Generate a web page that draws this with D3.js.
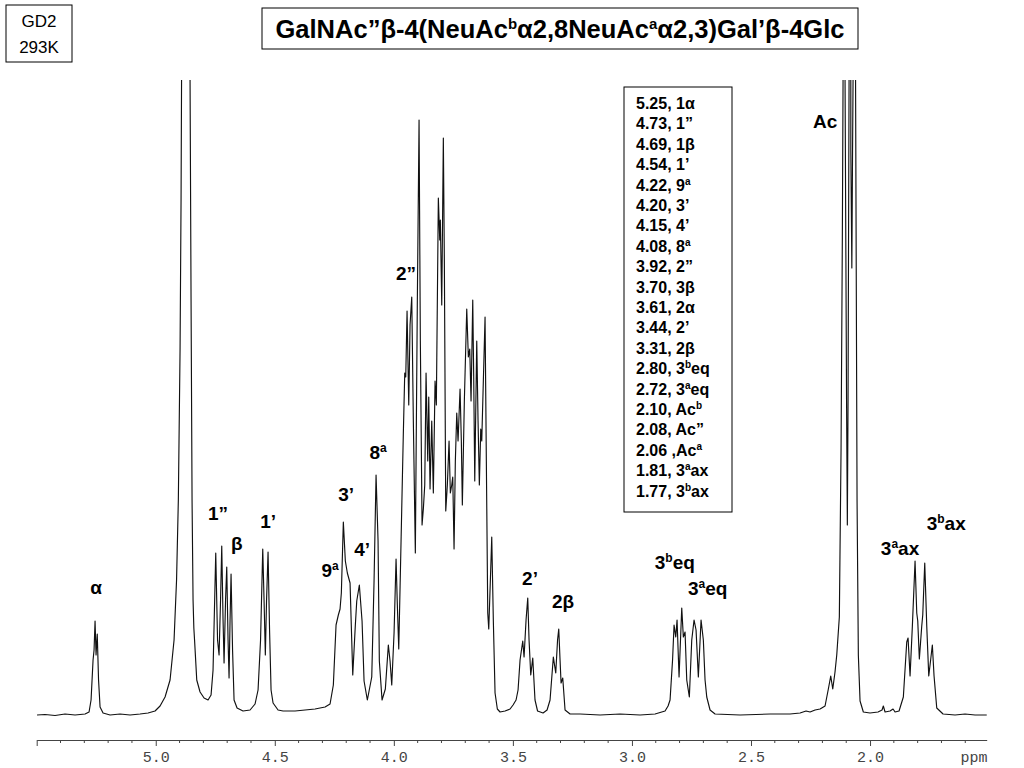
<!DOCTYPE html>
<html>
<head>
<meta charset="utf-8">
<script src="https://cdn.jsdelivr.net/npm/d3@7"></script>
<style>
  body { margin: 0; background: #fff; }
  svg { display: block; }
</style>
</head>
<body>
<svg id="nmr" width="1024" height="768"></svg>
<script>
// spectrum trace, [ppm, intensity above baseline]
const anomericRegion = [[5.4985,1],[5.4649,1.5],[5.4229,0.5],[5.3809,2],[5.3389,1],[5.2969,2],[5.2801,4],[5.2717,16],[5.2633,56],[5.2591,66],[5.2549,95],[5.2507,61],[5.2457,82],[5.2402,36],[5.2339,9],[5.2213,3],[5.1919,1],[5.1499,2],[5.1079,1],[5.0659,2],[5.0323,3],[5.0029,5],[4.9819,10],[4.9609,19],[4.9399,36],[4.9231,76],[4.9126,136],[4.9051,216],[4.8979,366],[4.8937,516],[4.8916,636],[4.8895,2000],[4.8580,2000],[4.8559,636],[4.8517,416],[4.8475,216],[4.8433,116],[4.8400,88],[4.8370,76],[4.8278,36],[4.8139,24],[4.7971,18],[4.7803,16],[4.7677,21],[4.7593,46],[4.7480,163],[4.7404,76],[4.7341,61],[4.7278,116],[4.7228,170],[4.7173,96],[4.7131,53],[4.7068,116],[4.7018,149],[4.6963,76],[4.6921,38],[4.6879,96],[4.6837,142],[4.6774,66],[4.6711,16],[4.6585,8],[4.6333,5],[4.6039,6],[4.5829,12],[4.5703,26],[4.5598,76],[4.5506,167],[4.5451,116],[4.5397,61],[4.5346,116],[4.5283,164],[4.5220,86],[4.5157,26],[4.5073,13],[4.4863,6],[4.4653,5]];
const ringRegion = [[4.4149,5],[4.3729,6],[4.3309,7],[4.2889,9],[4.2679,12],[4.2541,31],[4.2427,91],[4.2331,101],[4.2259,107],[4.2205,123],[4.2121,194],[4.2037,155],[4.1953,143],[4.1839,133],[4.1726,41],[4.1617,91],[4.1558,115],[4.1449,131],[4.1335,95],[4.1251,35],[4.1113,16],[4.0928,39],[4.0831,135],[4.0747,241],[4.0663,175],[4.0609,55],[4.0495,16],[4.0357,27],[4.0231,71],[4.0159,55],[4.0088,31],[3.9991,83],[3.9907,157],[3.9853,111],[3.9794,67],[3.9697,175],[3.9601,283],[3.9542,343],[3.9500,339],[3.9445,405],[3.9374,311],[3.9319,391],[3.9248,419],[3.9181,295],[3.9097,163],[3.9013,416],[3.8941,596],[3.8887,375],[3.8815,191],[3.8761,207],[3.8702,231],[3.8647,343],[3.8576,255],[3.8534,319],[3.8479,227],[3.8408,295],[3.8341,223],[3.8269,335],[3.8215,311],[3.8131,518],[3.8072,476],[3.8047,496],[3.7988,411],[3.7921,578],[3.7879,456],[3.7820,205],[3.7753,231],[3.7681,275],[3.7627,223],[3.7568,231],[3.7526,239],[3.7471,167],[3.7417,255],[3.7358,303],[3.7303,275],[3.7219,327],[3.7165,275],[3.7123,211],[3.7039,315],[3.6938,407],[3.6871,359],[3.6812,367],[3.6757,315],[3.6686,416],[3.6644,335],[3.6602,235],[3.6518,375],[3.6463,295],[3.6409,231],[3.6350,287],[3.6308,275],[3.6241,335],[3.6169,399],[3.6115,255],[3.6056,103],[3.6014,87],[3.5947,135],[3.5888,179],[3.5821,95],[3.5749,23],[3.5653,7],[3.5539,4]];
const sialicRegion = [[3.5329,5],[3.5119,7],[3.4993,11],[3.4867,16],[3.4783,26],[3.4699,56],[3.4586,75],[3.4531,59],[3.4447,96],[3.4376,118],[3.4321,76],[3.4250,41],[3.4166,58],[3.4071,16],[3.3964,5],[3.3733,3],[3.3565,6],[3.3439,16],[3.3301,59],[3.3200,43],[3.3124,76],[3.3074,87],[3.3019,56],[3.2977,33],[3.2906,38],[3.2809,6],[3.2599,2],[3.2179,2],[3.1339,1],[3.0499,2],[2.9659,1],[2.9029,2],[2.8609,5],[2.8483,10],[2.8399,16],[2.8294,56],[2.8231,91],[2.8160,79],[2.8105,96],[2.8021,39],[2.7908,108],[2.7841,79],[2.7769,84],[2.7698,36],[2.7589,19],[2.7488,76],[2.7391,96],[2.7307,86],[2.7211,39],[2.7097,96],[2.7001,76],[2.6929,36],[2.6858,19],[2.6719,6],[2.6509,2],[2.5459,1]];
const acetylRegion = [[2.4199,2],[2.3359,2],[2.2939,3],[2.2687,5],[2.2519,4],[2.2309,6],[2.2099,7],[2.1889,10],[2.1751,27],[2.1650,40],[2.1566,27],[2.1471,44],[2.1398,61],[2.1289,99],[2.1217,267],[2.1163,478],[2.1133,636],[2.1121,1500],[2.1070,1500],[2.1049,636],[2.0986,316],[2.0953,191],[2.0923,316],[2.0881,636],[2.0869,1500],[2.0827,1500],[2.0806,566],[2.0764,448],[2.0734,566],[2.0713,636],[2.0701,1500],[2.0642,1500],[2.0608,636],[2.0545,216],[2.0491,61],[2.0419,15],[2.0281,4],[2.0001,3],[1.9665,4],[1.9495,6],[1.9441,10],[1.9369,4],[1.9159,5],[1.9033,7],[1.8949,4],[1.8781,5],[1.8601,19],[1.8458,74],[1.8403,78],[1.8319,40],[1.8222,90],[1.8109,155],[1.8038,103],[1.7996,95],[1.7929,57],[1.7828,90],[1.7786,101],[1.7702,153],[1.7618,90],[1.7534,40],[1.7450,57],[1.7383,71],[1.7311,40],[1.7198,8],[1.6933,2],[1.6429,1],[1.6009,2],[1.5589,1],[1.5098,1]];

// assignment labels on the peaks: anchor [ppm, intensity]
const peakLabels = [
  {ppm:5.2507, h:122, main:"α"},
  {ppm:4.7383, h:196, main:"1”"},
  {ppm:4.6598, h:166, main:"β"},
  {ppm:4.5283, h:188, main:"1’"},
  {ppm:4.2679, h:139, main:"9", sup:"a"},
  {ppm:4.2007, h:215, main:"3’"},
  {ppm:4.1335, h:160, main:"4’"},
  {ppm:4.0663, h:257, main:"8", sup:"a"},
  {ppm:3.9487, h:436, main:"2”"},
  {ppm:3.4280, h:131, main:"2’"},
  {ppm:3.2893, h:108, main:"2β"},
  {ppm:2.8200, h:147, main:"3", sup:"b", post:"eq"},
  {ppm:2.6820, h:121, main:"3", sup:"a", post:"eq"},
  {ppm:2.1889, h:588, main:"Ac"},
  {ppm:1.8739, h:161, main:"3", sup:"a", post:"ax"},
  {ppm:1.6800, h:186, main:"3", sup:"b", post:"ax"}
];

// chemical shift table
const shiftTable = [
  {pre:"5.25, 1α"}, {pre:"4.73, 1”"}, {pre:"4.69, 1β"}, {pre:"4.54, 1’"},
  {pre:"4.22, 9", sup:"a"}, {pre:"4.20, 3’"}, {pre:"4.15, 4’"},
  {pre:"4.08, 8", sup:"a"}, {pre:"3.92, 2”"}, {pre:"3.70, 3β"},
  {pre:"3.61, 2α"}, {pre:"3.44, 2’"}, {pre:"3.31, 2β"},
  {pre:"2.80, 3", sup:"b", post:"eq"}, {pre:"2.72, 3", sup:"a", post:"eq"},
  {pre:"2.10, Ac", sup:"b"}, {pre:"2.08, Ac”"}, {pre:"2.06 ,Ac", sup:"a"},
  {pre:"1.81, 3", sup:"a", post:"ax"}, {pre:"1.77, 3", sup:"b", post:"ax"}
];

const majorTicks = [5.5, 5.0, 4.5, 4.0, 3.5, 3.0, 2.5, 2.0];
const minorTicks = d3.range(54, 15, -1).map(v => v / 10).filter(v => !majorTicks.includes(v));

const spectrum = anomericRegion.concat(ringRegion, sialicRegion, acetylRegion);

const svg = d3.select("#nmr");
const sans = "'Liberation Sans', Arial, Helvetica, sans-serif";
const mono = "'Liberation Mono', 'Courier New', monospace";

const x = d3.scaleLinear().domain([5.5, 1.51]).range([36.7, 986.7]);
const y = d3.scaleLinear().domain([0, 636]).range([716, 80]);

svg.append("defs").append("clipPath").attr("id", "plotclip")
  .append("rect").attr("x", 30).attr("y", 80).attr("width", 965).attr("height", 650);

// spectrum
svg.append("path")
  .datum(spectrum)
  .attr("clip-path", "url(#plotclip)")
  .attr("fill", "none")
  .attr("stroke", "#111")
  .attr("stroke-width", 1.15)
  .attr("stroke-linejoin", "round")
  .attr("d", d3.line().x(d => x(d[0])).y(d => y(d[1])));

// ppm axis
const axisG = svg.append("g").attr("transform", "translate(0,740)");
axisG.call(d3.axisBottom(x)
  .tickValues(majorTicks)
  .tickFormat(d => d === 5.5 ? "" : d3.format(".1f")(d))
  .tickSize(6).tickSizeOuter(0).tickPadding(5));
axisG.append("g").selectAll("line").data(minorTicks).enter()
  .append("line")
    .attr("x1", d => x(d)).attr("x2", d => x(d))
    .attr("y1", 0).attr("y2", 3)
    .attr("stroke", "#444");
axisG.select(".domain").attr("stroke", "#444");
axisG.selectAll(".tick line").attr("stroke", "#444");
axisG.selectAll(".tick text")
  .attr("font-family", mono).attr("font-size", 15).attr("fill", "#444");
axisG.append("text")
  .attr("x", 974).attr("y", 22)
  .attr("text-anchor", "middle")
  .attr("font-family", mono).attr("font-size", 15).attr("fill", "#444")
  .text("ppm");

// peak labels
const lab = svg.append("g")
  .attr("font-family", sans).attr("font-weight", "bold").attr("font-size", 19).attr("fill", "#000");
peakLabels.forEach(function(d){
  const t = lab.append("text")
    .attr("x", x(d.ppm)).attr("y", y(d.h))
    .attr("text-anchor", "middle");
  t.append("tspan").text(d.main);
  if (d.sup) {
    t.append("tspan").attr("dy", -7).attr("font-size", 12).text(d.sup);
    if (d.post) t.append("tspan").attr("dy", 7).text(d.post);
  }
});

// shift table box
svg.append("rect")
  .attr("x", 624).attr("y", 87).attr("width", 108).attr("height", 425)
  .attr("fill", "#fff").attr("stroke", "#000").attr("stroke-width", 1);
const tbl = svg.append("g")
  .attr("font-family", sans).attr("font-weight", "bold").attr("font-size", 16).attr("fill", "#000");
shiftTable.forEach(function(d, i){
  const t = tbl.append("text").attr("x", 636).attr("y", 109 + i * 20.4);
  t.append("tspan").text(d.pre);
  if (d.sup) {
    t.append("tspan").attr("dy", -6).attr("font-size", 10).text(d.sup);
    if (d.post) t.append("tspan").attr("dy", 6).text(d.post);
  }
});

// sample box
svg.append("rect")
  .attr("x", 6).attr("y", 5).attr("width", 66).attr("height", 57)
  .attr("fill", "#fff").attr("stroke", "#000");
svg.append("text").attr("x", 39).attr("y", 27)
  .attr("text-anchor", "middle").attr("font-family", sans).attr("font-size", 17)
  .text("GD2");
svg.append("text").attr("x", 39).attr("y", 53)
  .attr("text-anchor", "middle").attr("font-family", sans).attr("font-size", 17)
  .text("293K");

// title box
svg.append("rect")
  .attr("x", 262).attr("y", 8).attr("width", 596).attr("height", 41)
  .attr("fill", "#fff").attr("stroke", "#000");
const title = svg.append("text")
  .attr("x", 560).attr("y", 38)
  .attr("text-anchor", "middle")
  .attr("font-family", sans).attr("font-weight", "bold").attr("font-size", 25.5);
title.append("tspan").text("GalNAc”β-4(NeuAc");
title.append("tspan").attr("dy", -9).attr("font-size", 15).text("b");
title.append("tspan").attr("dy", 9).text("α2,8NeuAc");
title.append("tspan").attr("dy", -9).attr("font-size", 15).text("a");
title.append("tspan").attr("dy", 9).text("α2,3)Gal’β-4Glc");
</script>
</body>
</html>
